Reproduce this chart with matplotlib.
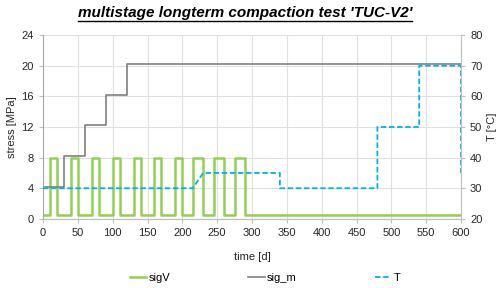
import numpy as np
import matplotlib
matplotlib.use("Agg")
import matplotlib.pyplot as plt
from matplotlib.lines import Line2D

plt.rcParams['font.family'] = ['Liberation Sans', 'DejaVu Sans']

# sigV: square wave, high 8 MPa during these intervals, 0.5 MPa otherwise
sigV_on_start = [10, 40, 70, 100, 130, 160, 190, 215, 245, 275]
sigV_on_end = [20, 50, 80, 110, 140, 170, 200, 230, 260, 290]
sigV_high = 8.0
sigV_low = 0.5
t_end = 600

# sig_m steps
sigm_t = [0, 30, 60, 90, 120, 600]
sigm_v = [4.2, 8.2, 12.2, 16.2, 20.2, 20.2]

# temperature
T_t = [0, 215, 230, 340, 340, 480, 480, 540, 540, 600, 600]
T_v = [30, 30, 35, 35, 30, 30, 50, 50, 70, 70, 35]

# build the square wave path from the pulse intervals
sx, sy = [0], [sigV_low]
for a, b in zip(sigV_on_start, sigV_on_end):
    sx += [a, a, b, b]
    sy += [sigV_low, sigV_high, sigV_high, sigV_low]
sx.append(t_end)
sy.append(sigV_low)

green = '#92d050'
grey = '#808080'
blue = '#00b0f0'
grid_c = '#e0e0e0'
spine_c = '#bfbfbf'

fig = plt.figure(figsize=(5, 2.88), dpi=100)
ax = fig.add_axes([0.086, 0.24, 0.836, 0.638])
ax2 = ax.twinx()

l1, = ax.plot(sx, sy, color=green, lw=1.8, label='sigV')
l2, = ax.plot(sigm_t, sigm_v, color=grey, lw=1.2, drawstyle='steps-post', label='sig_m')
l3, = ax2.plot(T_t, T_v, color=blue, lw=1.3, ls=(0, (3, 1.5)), label='T')

ax.set_xlim(0, 600)
ax.set_ylim(0, 24)
ax.set_xticks(np.arange(0, 601, 50))
ax.set_yticks(np.arange(0, 25, 4))
ax2.set_ylim(20, 80)
ax2.set_yticks(np.arange(20, 81, 10))

ax.grid(True, color=grid_c, lw=0.8)
ax.set_axisbelow(True)

for a in (ax, ax2):
    a.spines['top'].set_visible(False)
    for s in ('left', 'right', 'bottom'):
        a.spines[s].set_color(spine_c)
    a.tick_params(colors=spine_c, labelcolor='#262626', labelsize=8, length=3, width=0.8)
ax2.spines['left'].set_visible(False)
ax.spines['right'].set_visible(False)
ax.spines['left'].set_color('#a6a6a6')

ax.set_ylabel('stress [MPa]', fontsize=8, color='#262626', labelpad=3)
ax2.set_ylabel('T [°C]', fontsize=8, color='#262626', labelpad=3)
ax.set_xlabel('time [d]', fontsize=8, color='#262626', labelpad=10)

fig.legend(handles=[l1, l2, l3], loc='center', bbox_to_anchor=(0.53, 0.035), ncol=3,
           frameon=False, fontsize=8, handlelength=1.5, handletextpad=0.2,
           columnspacing=7)

title = fig.text(0.49, 0.955, "multistage longterm compaction test 'TUC-V2'",
                 ha='center', va='center', fontsize=11, fontweight='bold', style='italic')

# underline the title
fig.canvas.draw()
bb = title.get_window_extent()
y_line = (bb.y0 - 1) / fig.bbox.height
fig.add_artist(Line2D([bb.x0 / fig.bbox.width, bb.x1 / fig.bbox.width], [y_line, y_line],
                      transform=fig.transFigure, color='black', lw=1.0))

fig.savefig('out.png', dpi=100)
